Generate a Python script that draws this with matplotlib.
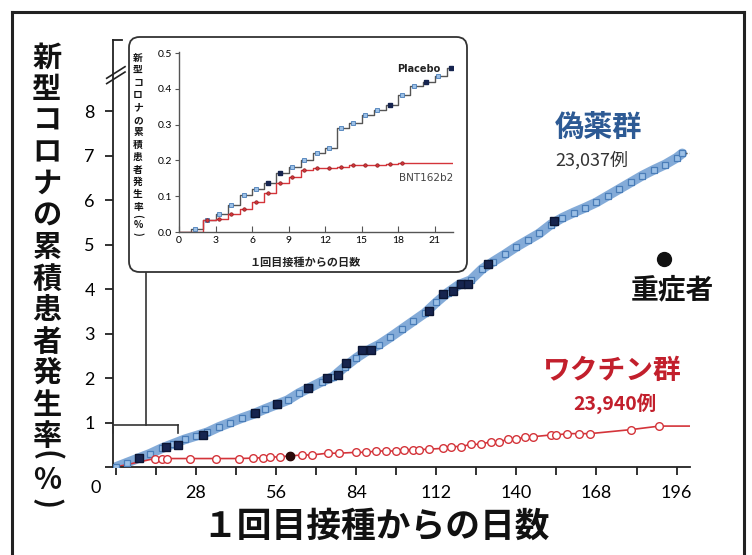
import matplotlib
matplotlib.use('Agg')
from matplotlib import pyplot as plt
from matplotlib.patches import FancyBboxPatch
from matplotlib.lines import Line2D

plt.rcParams['font.family'] = ['Noto Sans CJK JP', 'DejaVu Sans']

# main chart: cumulative incidence (%) by days after first dose
placebo_days = [0, 4, 8, 12, 16, 20, 24, 28, 32, 36, 40, 44, 48, 52, 56, 60, 64, 68, 72, 76,
                80, 84, 88, 92, 96, 100, 104, 108, 112, 116, 120, 124, 128, 132, 136, 140,
                144, 148, 152, 156, 160, 164, 168, 172, 176, 180, 184, 188, 192, 196, 198]
placebo_vals = [0.0, 0.1, 0.2, 0.3, 0.42, 0.52, 0.62, 0.7, 0.78, 0.9, 1.0, 1.1, 1.19, 1.3, 1.4,
                1.5, 1.66, 1.79, 1.92, 2.03, 2.25, 2.45, 2.62, 2.75, 2.92, 3.1, 3.28, 3.46, 3.7,
                3.92, 4.1, 4.2, 4.45, 4.62, 4.78, 4.95, 5.1, 5.25, 5.45, 5.6, 5.72, 5.83, 5.95,
                6.1, 6.25, 6.4, 6.55, 6.68, 6.8, 6.95, 7.05]
placebo_severe_days = [8, 17.6, 21.8, 30.4, 48.8, 56.4, 67.1, 73.7, 77.5, 80.6, 86.2, 89.3,
                       109.3, 114.5, 118, 120.8, 123.2, 130.1, 153.3]
placebo_severe_vals = [0.2, 0.45, 0.49, 0.72, 1.21, 1.41, 1.77, 1.99, 2.06, 2.33, 2.62, 2.64,
                       3.51, 3.89, 3.96, 4.12, 4.12, 4.56, 5.53]

vaccine_days = [0, 13.6, 16, 18, 26, 35, 43, 48, 51.6, 54, 57.4, 61, 65, 68.5, 74, 78, 84, 87.5,
                91, 94.5, 98, 100.7, 104, 106, 109.3, 114.5, 117, 120.8, 124, 127.7, 131, 134,
                137, 140, 143, 145.7, 152, 154, 157.8, 162, 165.7, 180, 190, 201]
vaccine_vals = [0.0, 0.19, 0.19, 0.19, 0.19, 0.19, 0.19, 0.2, 0.21, 0.22, 0.23, 0.25, 0.27,
                0.27, 0.31, 0.31, 0.33, 0.33, 0.36, 0.36, 0.36, 0.39, 0.39, 0.39, 0.4, 0.42,
                0.46, 0.46, 0.51, 0.51, 0.57, 0.57, 0.62, 0.62, 0.68, 0.68, 0.72, 0.72, 0.75,
                0.75, 0.75, 0.84, 0.92, 0.92]
vaccine_severe_days = [61]
vaccine_severe_vals = [0.25]

# inset: first 21 days
inset_days = list(range(0, 23))
inset_placebo = [0.0, 0.007, 0.033, 0.05, 0.075, 0.103, 0.119, 0.136, 0.164, 0.182, 0.2, 0.22,
                 0.236, 0.29, 0.304, 0.327, 0.341, 0.355, 0.383, 0.407, 0.42, 0.435, 0.458]
inset_vaccine = [0.0, 0.0, 0.033, 0.037, 0.05, 0.065, 0.084, 0.109, 0.136, 0.154, 0.173, 0.178,
                 0.178, 0.182, 0.187, 0.187, 0.187, 0.19, 0.193, 0.193, 0.193, 0.193, 0.193]
inset_placebo_severe = [7, 8, 17, 20, 22]

y_ticks = [0, 1, 2, 3, 4, 5, 6, 7, 8]
x_ticks = list(range(0, 197, 14))
x_ticklabels = ['' if (d == 0 or d % 28) else str(d) for d in x_ticks]
inset_xticks = [0, 3, 6, 9, 12, 15, 18, 21]
inset_yticks = [0.0, 0.1, 0.2, 0.3, 0.4, 0.5]

ylabel_chars = ['新', '型', 'コ', 'ロ', 'ナ', 'の', '累', '積', '患', '者', '発', '生', '率', '(', '%', ')']

W, H = 752, 555
BLUE_FACE = '#9cc0e6'
BLUE_EDGE = '#4a7db8'
BLUE_LINE = '#6f9dd2'
NAVY = '#16244f'
RED = '#d4343a'
RED_TEXT = '#c21f2c'
TICK_FONT = 'Lato'


def fx(px):
    return px / W


def fy(py):
    return 1 - py / H


def vertical_label(x, y0, step, size, tail):
    # stacked characters, brackets turned for vertical writing
    for i, ch in enumerate(ylabel_chars):
        rot = -90 if ch in '()' else 0
        y = y0 + step * i if i < 13 else y0 + step * 12 + tail[i - 13]
        fig.text(fx(x), fy(y), ch, ha='center', va='center', fontsize=size, rotation=rot,
                 fontweight='bold', color='#111', zorder=7)


fig = plt.figure(figsize=(W / 100, H / 100), dpi=100)

# outer frame
for (x0, y0, x1, y1) in [(12, 12, 744, 12), (12, 12, 12, 560), (744, 12, 744, 560)]:
    fig.add_artist(Line2D([fx(x0), fx(x1)], [fy(y0), fy(y1)], color='#222', lw=2.2))

ax = fig.add_axes([fx(113), fy(467), fx(690) - fx(113), fy(40) - fy(467)])
ax.set_xlim(-1, 200.7)
ax.set_ylim(0, 9.6)
for s in ['top', 'right']:
    ax.spines[s].set_visible(False)
for s in ['left', 'bottom']:
    ax.spines[s].set_color('#222')
    ax.spines[s].set_linewidth(1.3)

ax.set_yticks(y_ticks)
ax.set_yticklabels(['' if v == 0 else str(v) for v in y_ticks], fontfamily=TICK_FONT, fontsize=13)
ax.set_xticks(x_ticks)
ax.set_xticklabels(x_ticklabels, fontfamily=TICK_FONT, fontsize=13)
ax.tick_params(axis='both', length=6, width=1.3, color='#222', pad=7)
ax.text(-0.03, -0.05, '0', transform=ax.transAxes, ha='center', va='center',
        fontsize=13, fontfamily=TICK_FONT)

# placebo band
ax.plot(placebo_days, placebo_vals, color=BLUE_LINE, lw=7, alpha=0.85, solid_capstyle='round', zorder=2)
ax.plot(placebo_days, placebo_vals, ls='none', marker='s', ms=4.5, mfc=BLUE_FACE, mec=BLUE_EDGE,
        mew=0.9, zorder=3)
ax.plot([placebo_days[-1], 201], [placebo_vals[-1]] * 2, color='#555', lw=1, ls='--', zorder=2)
ax.plot(placebo_severe_days, placebo_severe_vals, ls='none', marker='s', ms=5.5, mfc=NAVY,
        mec='#0b1533', zorder=4)

# vaccine line
ax.plot(vaccine_days, vaccine_vals, color=RED, lw=1.2, zorder=2)
ax.plot(vaccine_days[1:-1], vaccine_vals[1:-1], ls='none', marker='o', ms=5.5, mfc='white',
        mec=RED, mew=1.0, zorder=3)
ax.plot(vaccine_severe_days, vaccine_severe_vals, ls='none', marker='o', ms=6, mfc='#2a0a0a',
        mec='#2a0a0a', zorder=4)

# axis break marks on left spine
for dy in (0.0, 0.12):
    ax.plot([-3.2, 3.2], [8.62 + dy, 8.88 + dy], color='#222', lw=1.2, clip_on=False)
ax.plot([-1, 2], [9.6, 9.6], color='#222', lw=1.3, clip_on=False)

# group labels
ax.text(0.842, 0.796, '偽薬群', transform=ax.transAxes, ha='center', va='center',
        fontsize=21, fontweight='bold', color='#2d5a94')
ax.text(0.83, 0.719, '23,037例', transform=ax.transAxes, ha='center', va='center',
        fontsize=13, color='#333')
ax.plot([0.955], [0.488], transform=ax.transAxes, marker='o', ms=10, color='#111', clip_on=False)
ax.text(0.97, 0.413, '重症者', transform=ax.transAxes, ha='center', va='center',
        fontsize=20, fontweight='bold', color='#111')
ax.text(0.865, 0.225, 'ワクチン群', transform=ax.transAxes, ha='center', va='center',
        fontsize=20, fontweight='bold', color=RED_TEXT)
ax.text(0.87, 0.148, '23,940例', transform=ax.transAxes, ha='center', va='center',
        fontsize=14, fontweight='bold', color=RED_TEXT)

# main axis labels
fig.text(0.5, fy(526), '１回目接種からの日数', ha='center', va='center', fontsize=25,
         fontweight='bold', color='#111')
vertical_label(47, 58, 31.5, 21, [20, 44, 68])

# bracket linking to inset
bracket = [((113, 425), (178, 425)), ((113, 425), (113, 433)), ((178, 425), (178, 433)),
           ((146, 425), (146, 272))]
for (a, b) in bracket:
    fig.add_artist(Line2D([fx(a[0]), fx(b[0])], [fy(a[1]), fy(b[1])], color='#333', lw=1.2))

# inset frame
fig.add_artist(FancyBboxPatch((fx(129), fy(272)), fx(467) - fx(129), fy(37) - fy(272),
                              boxstyle='round,pad=0,rounding_size=0.014',
                              mutation_aspect=W / H, transform=fig.transFigure,
                              fc='white', ec='#333', lw=1.3, zorder=5))

axin = fig.add_axes([fx(179), fy(232), fx(453) - fx(179), fy(52) - fy(232)], zorder=6)
axin.patch.set_alpha(0)
axin.set_xlim(0, 22.5)
axin.set_ylim(0, 0.503)
for s in ['top', 'right']:
    axin.spines[s].set_visible(False)
for s in ['left', 'bottom']:
    axin.spines[s].set_color('#555')
    axin.spines[s].set_linewidth(1.0)
axin.set_xticks(inset_xticks)
axin.set_xticklabels([str(v) for v in inset_xticks], fontsize=7.5, fontfamily=TICK_FONT)
axin.set_yticks(inset_yticks)
axin.set_yticklabels(['%.1f' % v for v in inset_yticks], fontsize=7.5, fontfamily=TICK_FONT)
axin.tick_params(axis='x', direction='in', length=4, width=0.8, pad=3, color='#555')
axin.tick_params(axis='y', direction='out', length=3, width=0.8, pad=2, color='#555')

axin.step(inset_days + [22.4], inset_placebo + [inset_placebo[-1]], where='post', color='#555', lw=1.0)
axin.step(inset_days + [22.4], inset_vaccine + [inset_vaccine[-1]], where='post', color=RED, lw=1.0)
axin.plot([d + 0.3 for d in inset_days[1:]], inset_placebo[1:], ls='none', marker='s', ms=3,
          mfc=BLUE_FACE, mec=BLUE_EDGE, mew=0.6)
axin.plot([d + 0.3 for d in inset_placebo_severe], [inset_placebo[d] for d in inset_placebo_severe],
          ls='none', marker='s', ms=3, mfc=NAVY, mec=NAVY)
axin.plot([d + 0.3 for d in inset_days[2:19]], inset_vaccine[2:19], ls='none', marker='o', ms=2.5,
          mfc=RED, mec='#8a1a1a', mew=0.5)
axin.text(19.7, 0.455, 'Placebo', ha='center', va='center', fontsize=7, fontweight='bold',
          fontfamily='DejaVu Sans', color='#222')
axin.text(20.3, 0.15, 'BNT162b2', ha='center', va='center', fontsize=7.5,
          fontfamily='DejaVu Sans', color='#444')

fig.text(fx(305), fy(262), '１回目接種からの日数', ha='center', va='center', fontsize=8,
         fontweight='bold', color='#222', zorder=7)
vertical_label(138, 58, 12.4, 7, [9, 18, 27])

fig.savefig('out.png', dpi=100)
